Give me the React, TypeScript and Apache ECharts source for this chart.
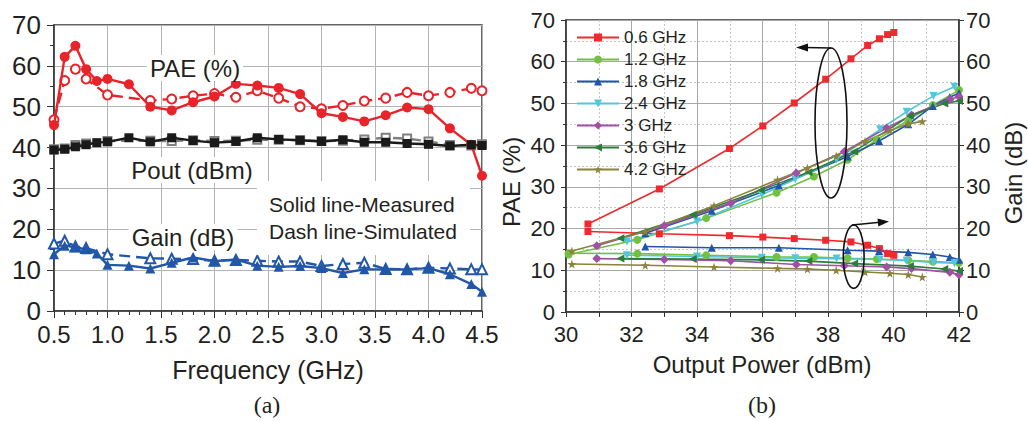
import React, { useEffect, useRef } from "react";
import * as echarts from "echarts";

// ---------- (a) Frequency sweep ----------
const freqMeas = [0.5, 0.6, 0.7, 0.8, 0.9, 1.0, 1.2, 1.4, 1.6, 1.8, 2.0, 2.2, 2.4, 2.6, 2.8, 3.0, 3.2, 3.4, 3.6, 3.8, 4.0, 4.2, 4.4, 4.5];
const paeMeas = [45.5, 62.2, 64.9, 59.2, 56.3, 56.8, 55.5, 50.0, 49.1, 51.1, 52.5, 55.6, 55.2, 54.6, 53.1, 48.4, 47.5, 46.4, 47.9, 49.8, 49.4, 44.7, 40.7, 33.1];
const poutMeas = [39.4, 39.6, 40.2, 40.7, 41.2, 41.4, 42.4, 41.4, 42.4, 41.7, 41.2, 41.5, 42.4, 42.0, 41.8, 41.5, 41.9, 41.3, 41.3, 41.0, 40.8, 40.4, 40.7, 40.5];
const gainMeas = [13.9, 16.0, 15.6, 15.1, 14.1, 11.3, 11.1, 10.4, 11.8, 13.1, 12.2, 12.6, 11.1, 10.8, 11.0, 10.5, 9.3, 10.2, 10.2, 10.2, 10.5, 9.0, 6.6, 4.7];

const freqSim = [0.5, 0.6, 0.7, 0.8, 1.0, 1.4, 1.6, 1.8, 2.0, 2.2, 2.4, 2.6, 2.8, 3.0, 3.2, 3.4, 3.6, 3.8, 4.0, 4.2, 4.4, 4.5];
const paeSim = [46.8, 56.4, 59.2, 56.8, 52.9, 51.5, 51.9, 52.7, 53.2, 52.3, 53.9, 52.1, 50.0, 49.5, 50.3, 51.4, 52.1, 53.5, 52.7, 53.5, 54.5, 53.9];
const poutSim = [39.6, 39.8, 40.6, 41.0, 41.6, 41.7, 41.6, 41.8, 41.6, 41.7, 41.9, 41.9, 41.8, 41.6, 41.7, 42.0, 42.4, 42.2, 41.5, 40.6, 40.5, 40.8];
const gainSim = [16.5, 17.2, 15.8, 15.4, 13.9, 12.9, 12.8, 12.7, 12.3, 12.5, 12.3, 12.1, 12.1, 11.0, 11.5, 11.8, 10.3, 10.2, 10.6, 10.4, 10.2, 10.2];

// ---------- (b) Power sweep ----------
const bandNames = ["0.6 GHz", "1.2 GHz", "1.8 GHz", "2.4 GHz", "3 GHz", "3.6 GHz", "4.2 GHz"];

const pout06 = [30.67, 32.85, 34.99, 36.01, 36.97, 37.93, 38.7, 39.21, 39.57, 39.82, 40.01];
const pae06 = [21.1, 29.5, 39.2, 44.6, 50.1, 55.8, 60.7, 63.9, 65.5, 66.5, 67.0];
const gain06 = [19.3, 18.75, 18.3, 17.96, 17.6, 17.2, 16.8, 16.0, 15.2, 14.0, 13.6];

const pout12 = [30.08, 32.18, 34.28, 36.43, 37.57, 38.6, 39.49, 40.45, 41.2, 42.0];
const pae12 = [13.8, 17.3, 22.5, 28.6, 32.5, 36.5, 41.3, 46.0, 49.6, 53.2];
const gain12 = [14.1, 14.0, 13.6, 13.2, 13.2, 12.9, 12.7, 12.4, 12.1, 11.8];

const pout18 = [32.42, 34.45, 36.5, 38.6, 39.56, 40.45, 41.2, 41.72, 42.0];
const pae18 = [18.9, 24.3, 30.3, 37.3, 41.0, 45.0, 49.4, 51.5, 52.5];
const gain18 = [15.7, 15.4, 15.4, 14.8, 14.6, 14.3, 13.8, 13.2, 12.5];

const pout24 = [31.86, 34.0, 35.98, 37.0, 38.26, 39.59, 40.4, 41.22, 41.86];
const pae24 = [16.9, 21.7, 28.1, 31.8, 36.5, 43.8, 48.0, 51.8, 54.0];
const gain24 = [13.6, 13.3, 13.0, 12.9, 12.8, 12.6, 12.3, 11.9, 11.7];

const pout30 = [30.94, 33.0, 35.03, 37.03, 38.5, 39.79, 40.55, 41.72, 42.0];
const pae30 = [15.9, 20.7, 26.1, 33.3, 38.5, 44.1, 47.2, 51.0, 51.6];
const gain30 = [12.8, 12.6, 12.3, 11.4, 11.1, 10.8, 10.4, 9.5, 8.9];

const pout36 = [31.66, 33.87, 35.95, 37.4, 38.8, 40.5, 41.55, 42.0];
const pae36 = [17.7, 23.3, 29.2, 33.5, 38.5, 47.0, 50.0, 50.6];
const gain36 = [12.8, 12.7, 12.5, 12.2, 11.6, 11.0, 10.3, 9.8];

const pout42 = [30.18, 32.42, 34.52, 36.46, 37.37, 38.25, 39.13, 39.89, 40.45, 40.88];
const pae42 = [14.6, 19.3, 25.5, 31.7, 34.5, 37.4, 40.9, 43.5, 45.1, 45.7];
const gain42 = [11.5, 11.2, 10.8, 10.45, 10.3, 10.0, 9.6, 9.3, 9.0, 8.4];

const FONT = "'Liberation Sans', Arial, Helvetica, sans-serif";
const SERIF = "'Liberation Serif', 'Times New Roman', serif";
const INK = "#231f20";

const zip = (xs: number[], ys: number[]) => xs.map((x, i) => [x, ys[i]]);

const STAR = "path://M50,0 L61,35 L98,35 L68,57 L79,91 L50,70 L21,91 L32,57 L2,35 L39,35 Z";

const bands = [
  { name: bandNames[0], color: "#ee2a2e", symbol: "rect", rotate: 0, size: 7, x: pout06, pae: pae06, gain: gain06 },
  { name: bandNames[1], color: "#72c043", symbol: "circle", rotate: 0, size: 8, x: pout12, pae: pae12, gain: gain12 },
  { name: bandNames[2], color: "#1f56a8", symbol: "triangle", rotate: 0, size: 8, x: pout18, pae: pae18, gain: gain18 },
  { name: bandNames[3], color: "#52c6dc", symbol: "triangle", rotate: 180, size: 8, x: pout24, pae: pae24, gain: gain24 },
  { name: bandNames[4], color: "#a24fa6", symbol: "diamond", rotate: 0, size: 9, x: pout30, pae: pae30, gain: gain30 },
  { name: bandNames[5], color: "#2c7c3b", symbol: "triangle", rotate: 90, size: 8, x: pout36, pae: pae36, gain: gain36 },
  { name: bandNames[6], color: "#8a8338", symbol: STAR, rotate: 0, size: 9, x: pout42, pae: pae42, gain: gain42 },
];

function buildOption() {
  const axisLine = { show: true, onZero: false, lineStyle: { color: "#333", width: 1.5 } };
  const tick = { show: true, length: 7, lineStyle: { color: "#333", width: 1 } };

  const leftSeries: any[] = [
    { data: zip(freqSim, paeSim), color: "#e8232a", symbol: "emptyCircle", size: 9, dashed: true },
    { data: zip(freqSim, poutSim), color: "#808080", symbol: "emptyRect", size: 8, dashed: true },
    { data: zip(freqSim, gainSim), color: "#2257a8", symbol: "emptyTriangle", size: 10, dashed: true },
    { data: zip(freqMeas, paeMeas), color: "#e8232a", symbol: "circle", size: 10, dashed: false },
    { data: zip(freqMeas, poutMeas), color: "#1a1a1a", symbol: "rect", size: 9, dashed: false },
    { data: zip(freqMeas, gainMeas), color: "#2257a8", symbol: "triangle", size: 10, dashed: false },
  ].map((s) => ({
    type: "line",
    xAxisIndex: 0,
    yAxisIndex: 0,
    data: s.data,
    symbol: s.symbol,
    symbolSize: s.size,
    showSymbol: true,
    showAllSymbol: true,
    z: s.dashed ? 3 : 4,
    lineStyle: { color: s.color, width: 2.4, type: s.dashed ? [11, 6] : "solid" },
    itemStyle: { color: s.color, borderColor: s.color, borderWidth: s.dashed ? 1.3 : 0 },
  }));

  const rightSeries: any[] = [];
  bands.forEach((b) => {
    const common = {
      type: "line",
      name: b.name,
      xAxisIndex: 1,
      symbol: b.symbol,
      symbolRotate: b.rotate,
      symbolSize: b.size,
      lineStyle: { color: b.color, width: 1.6 },
      itemStyle: { color: b.color },
      z: 3,
    };
    rightSeries.push({ ...common, yAxisIndex: 1, data: zip(b.x, b.pae) });
    rightSeries.push({ ...common, yAxisIndex: 2, data: zip(b.x, b.gain) });
  });

  const labelText = (text: string, x: number, y: number, size: number, bg = true) => ({
    type: "text",
    x,
    y,
    z: 10,
    style: {
      text,
      fill: INK,
      font: `${size}px ${FONT}`,
      align: "center",
      verticalAlign: "middle",
      backgroundColor: bg ? "#fff" : "transparent",
      padding: bg ? [1, 3] : 0,
    },
  });

  const leftText = (text: string, x: number, y: number, size: number) => ({
    type: "text",
    x,
    y,
    z: 10,
    style: { text, fill: INK, font: `${size}px ${FONT}`, align: "left", verticalAlign: "middle" },
  });

  const rotText = (text: string, x: number, y: number, size: number) => ({
    type: "text",
    x,
    y,
    rotation: Math.PI / 2,
    z: 10,
    style: { text, fill: INK, font: `${size}px ${FONT}`, align: "center", verticalAlign: "middle" },
  });

  const graphic: any[] = [
    { type: "rect", z: 9, shape: { x: 257, y: 181, width: 213, height: 74 }, style: { fill: "#fff" } },
    leftText("Solid line-Measured", 269, 204, 21),
    leftText("Dash line-Simulated", 269, 231, 21),
    labelText("PAE (%)", 195, 68, 24),
    labelText("Pout (dBm)", 192, 170, 24),
    labelText("Gain (dB)", 183, 237, 24),
    labelText("Frequency (GHz)", 268, 370, 25, false),
    labelText("Output Power (dBm)", 762, 364, 24, false),
    rotText("PAE (%)", 511, 182, 24),
    rotText("Gain (dB)", 1013, 173, 24),
    {
      type: "text",
      x: 267,
      y: 405,
      style: { text: "(a)", fill: INK, font: `24px ${SERIF}`, align: "center", verticalAlign: "middle" },
    },
    {
      type: "text",
      x: 762,
      y: 405,
      style: { text: "(b)", fill: INK, font: `24px ${SERIF}`, align: "center", verticalAlign: "middle" },
    },
    // ellipses & arrows
    { type: "ellipse", z: 10, shape: { cx: 831, cy: 123, rx: 16, ry: 75 }, style: { fill: "none", stroke: "#111", lineWidth: 1.6 } },
    { type: "line", z: 10, shape: { x1: 831, y1: 48, x2: 805, y2: 47.5 }, style: { stroke: "#111", lineWidth: 1.6 } },
    { type: "polygon", z: 10, shape: { points: [[796, 47.5], [808, 43.5], [808, 51.5]] }, style: { fill: "#111" } },
    { type: "ellipse", z: 10, shape: { cx: 853.7, cy: 256.7, rx: 10.4, ry: 31.7 }, style: { fill: "none", stroke: "#111", lineWidth: 1.6 } },
    { type: "line", z: 10, shape: { x1: 852, y1: 225, x2: 880, y2: 222.3 }, style: { stroke: "#111", lineWidth: 1.6 } },
    { type: "polygon", z: 10, shape: { points: [[889, 221.5], [877.5, 218.5], [878.3, 226.5]] }, style: { fill: "#111" } },
  ];

  return {
    animation: false,
    backgroundColor: "#fff",
    textStyle: { fontFamily: FONT, color: INK },
    legend: {
      data: bandNames,
      orient: "vertical",
      left: 576,
      top: 29,
      itemWidth: 42,
      itemHeight: 10,
      itemGap: 5,
      padding: 0,
      textStyle: { fontSize: 17, lineHeight: 17, color: INK, fontFamily: FONT },
    },
    grid: [
      { left: 54, top: 25, width: 428, height: 286, show: true, borderColor: "#333", borderWidth: 1.5, backgroundColor: "transparent" },
      { left: 566, top: 20, width: 393, height: 292, show: true, borderColor: "#333", borderWidth: 1.5, backgroundColor: "transparent" },
    ],
    xAxis: [
      {
        type: "value",
        gridIndex: 0,
        min: 0.5,
        max: 4.5,
        interval: 0.5,
        axisLine,
        axisTick: tick,
        minorTick: { show: true, splitNumber: 5, length: 4, lineStyle: { color: "#333" } },
        splitLine: { show: true, lineStyle: { color: "#b4b4b4", width: 1 } },
        axisLabel: { fontSize: 24, margin: 11, color: INK, fontFamily: FONT, formatter: (v: number) => v.toFixed(1) },
      },
      {
        type: "value",
        gridIndex: 1,
        min: 30,
        max: 42,
        interval: 2,
        axisLine,
        axisTick: { ...tick, length: 5 },
        minorTick: { show: true, splitNumber: 2, length: 5, lineStyle: { color: "#333" } },
        splitLine: { show: true, lineStyle: { color: "#a8a8a8", width: 1 } },
        minorSplitLine: { show: true, lineStyle: { color: "#c4c4c4", width: 1, type: [2, 2] } },
        axisLabel: { fontSize: 22, margin: 11, color: INK, fontFamily: FONT },
      },
    ],
    yAxis: [
      {
        type: "value",
        gridIndex: 0,
        min: 0,
        max: 70,
        interval: 10,
        axisLine,
        axisTick: tick,
        minorTick: { show: true, splitNumber: 2, length: 4, lineStyle: { color: "#333" } },
        splitLine: { show: true, lineStyle: { color: "#b4b4b4", width: 1 } },
        axisLabel: { fontSize: 26, margin: 13, color: INK, fontFamily: FONT },
      },
      {
        type: "value",
        gridIndex: 1,
        position: "left",
        min: 0,
        max: 70,
        interval: 10,
        axisLine,
        axisTick: { ...tick, length: 5 },
        minorTick: { show: true, splitNumber: 2, length: 3, lineStyle: { color: "#333" } },
        splitLine: { show: true, lineStyle: { color: "#a8a8a8", width: 1 } },
        minorSplitLine: { show: true, lineStyle: { color: "#c4c4c4", width: 1, type: [2, 2] } },
        axisLabel: { fontSize: 22, margin: 11, color: INK, fontFamily: FONT },
      },
      {
        type: "value",
        gridIndex: 1,
        position: "right",
        min: 0,
        max: 70,
        interval: 10,
        axisLine,
        axisTick: { ...tick, length: 5 },
        splitLine: { show: false },
        axisLabel: { fontSize: 22, margin: 7, color: INK, fontFamily: FONT },
      },
    ],
    series: [...leftSeries, ...rightSeries],
    graphic,
  };
}

export default function App() {
  const ref = useRef<HTMLDivElement>(null);
  useEffect(() => {
    if (!ref.current) return;
    const chart = echarts.init(ref.current, null, { renderer: "svg" });
    chart.setOption(buildOption() as any);
    return () => chart.dispose();
  }, []);
  return (
    <div
      ref={ref}
      style={{ position: "fixed", left: 0, top: 0, width: 1028, height: 421, background: "#fff" }}
    />
  );
}
